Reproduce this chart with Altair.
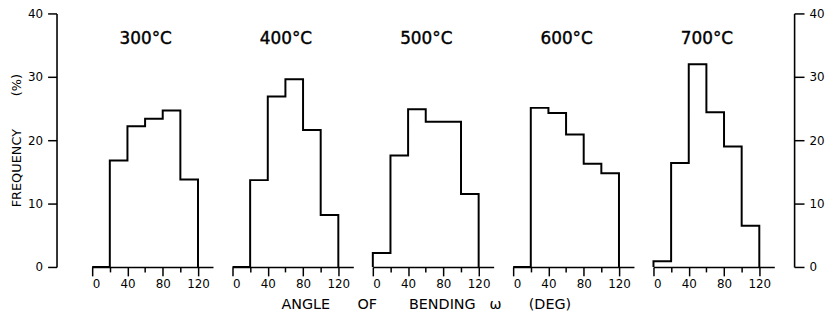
import altair as alt
import pandas as pd

temps = ["300°C", "400°C", "500°C", "600°C", "700°C"]
bin_edges = [0, 20, 40, 60, 80, 100, 120]
freq_300 = [0, 16.8, 22.2, 23.4, 24.7, 13.8]
freq_400 = [0, 13.7, 26.9, 29.6, 21.6, 8.2]
freq_500 = [2.2, 17.6, 24.9, 22.9, 22.9, 11.5]
freq_600 = [0, 25.1, 24.3, 20.9, 16.3, 14.8]
freq_700 = [0.9, 16.4, 32.0, 24.4, 19.0, 6.5]
all_freqs = [freq_300, freq_400, freq_500, freq_600, freq_700]

y_ticks = [0, 10, 20, 30, 40]
x_ticks = [0, 20, 40, 60, 80, 100, 120]

FONT = "DejaVu Sans"
W, H = 122, 256
XMAX = 137


def panel(i, temp, freqs):
    pts = [(0, 0)] + [(bin_edges[k], f) for k, f in enumerate(freqs)] + [(bin_edges[-1], 0)]
    df = pd.DataFrame({
        "order": list(range(len(pts))),
        "angle": [p[0] for p in pts],
        "freq": [p[1] for p in pts],
    })
    nb = "\u00a0" * 8
    if i == 0:
        yaxis = alt.Axis(orient="left", offset=36, values=y_ticks, title=f"FREQUENCY{nb}(%)",
                         tickSize=9, labelPadding=5, titlePadding=4, grid=False,
                         titleFont=FONT, titleFontSize=13, titleFontWeight="normal",
                         titleColor="#000000")
    elif i == len(temps) - 1:
        yaxis = alt.Axis(orient="right", offset=20, values=y_ticks, title=None,
                         tickSize=10, labelPadding=5, grid=False)
    else:
        yaxis = None
    xaxis = alt.Axis(values=x_ticks, labelExpr="datum.value % 40 == 0 ? datum.label : ''",
                     title=None, grid=False,
                     tickSize={"condition": {"test": "datum.value % 40 == 0", "value": 9}, "value": 5},
                     labelPadding=3)
    line = alt.Chart(df).mark_line(interpolate="step-after", color="black", strokeWidth=2).encode(
        x=alt.X("angle:Q", scale=alt.Scale(domain=[0, XMAX], nice=False, zero=False), axis=xaxis),
        y=alt.Y("freq:Q", scale=alt.Scale(domain=[0, 40], nice=False), axis=yaxis),
        order=alt.Order("order:Q"),
    )
    label = alt.Chart(pd.DataFrame({"t": [temp]})).mark_text(
        font=FONT, fontSize=17, fontWeight="normal", color="black", baseline="middle", align="center",
        stroke="black", strokeWidth=0.4
    ).encode(x=alt.value(54), y=alt.value(26), text="t:N")
    return alt.layer(line, label).properties(width=W, height=H)


panels = [panel(i, t, f) for i, (t, f) in enumerate(zip(temps, all_freqs))]

s6 = "\u00a0" * 6
xtitle = f"ANGLE{s6}OF{s6}\u00a0BENDING\u00a0\u00a0\u00a0ω{s6}(DEG)"

chart = alt.hconcat(*panels, spacing=19.7, bounds="flush").properties(
    title=alt.TitleParams(xtitle, orient="bottom", anchor="middle", font=FONT, fontSize=14.5,
                          fontWeight="normal", color="black", offset=8, dx=9),
    padding={"left": 2, "top": -2, "right": 0, "bottom": 0},
).configure_view(stroke=None).configure_axis(
    domainColor="black", domainWidth=1.6, tickColor="black", tickWidth=1.5,
    labelFont=FONT, labelFontSize=12, labelColor="black",
)

chart.save("out.html", embed_options={"renderer": "svg", "actions": False})
